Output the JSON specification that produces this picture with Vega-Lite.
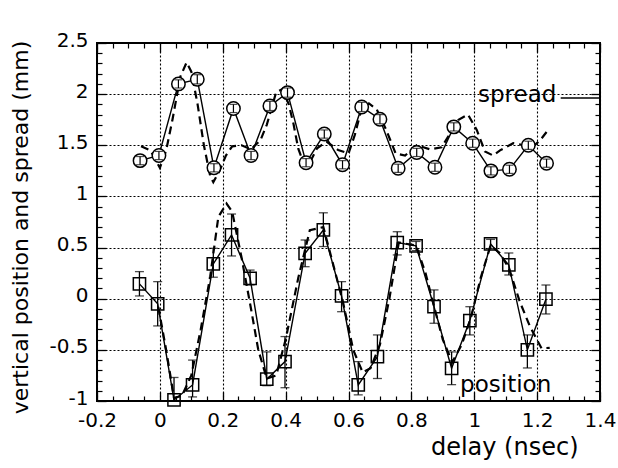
{
  "$schema": "https://vega.github.io/schema/vega-lite/v6.json",
  "autosize": {"type": "none"},
  "width": 503,
  "height": 358,
  "padding": {"left": 97, "top": 43, "right": 18, "bottom": 67},
  "background": "white",
  "config": {
    "view": {"stroke": "black", "strokeWidth": 2},
    "font": "DejaVu Sans"
  },
  "datasets": {
    "spread": [
      {"x": -0.063, "y": 1.35, "lo": 1.31, "hi": 1.39},
      {"x": -0.003, "y": 1.40, "lo": 1.36, "hi": 1.44},
      {"x": 0.059, "y": 2.10, "lo": 2.06, "hi": 2.14},
      {"x": 0.119, "y": 2.145, "lo": 2.10, "hi": 2.19},
      {"x": 0.172, "y": 1.28, "lo": 1.24, "hi": 1.32},
      {"x": 0.234, "y": 1.86, "lo": 1.82, "hi": 1.90},
      {"x": 0.290, "y": 1.40, "lo": 1.36, "hi": 1.44},
      {"x": 0.350, "y": 1.885, "lo": 1.84, "hi": 1.93},
      {"x": 0.406, "y": 2.015, "lo": 1.97, "hi": 2.06},
      {"x": 0.465, "y": 1.33, "lo": 1.29, "hi": 1.37},
      {"x": 0.523, "y": 1.61, "lo": 1.57, "hi": 1.65},
      {"x": 0.581, "y": 1.31, "lo": 1.27, "hi": 1.35},
      {"x": 0.642, "y": 1.875, "lo": 1.83, "hi": 1.92},
      {"x": 0.700, "y": 1.755, "lo": 1.71, "hi": 1.80},
      {"x": 0.758, "y": 1.275, "lo": 1.235, "hi": 1.315},
      {"x": 0.817, "y": 1.43, "lo": 1.39, "hi": 1.47},
      {"x": 0.875, "y": 1.285, "lo": 1.245, "hi": 1.325},
      {"x": 0.935, "y": 1.68, "lo": 1.64, "hi": 1.72},
      {"x": 0.995, "y": 1.52, "lo": 1.48, "hi": 1.56},
      {"x": 1.053, "y": 1.25, "lo": 1.21, "hi": 1.29},
      {"x": 1.112, "y": 1.265, "lo": 1.225, "hi": 1.305},
      {"x": 1.172, "y": 1.50, "lo": 1.46, "hi": 1.54},
      {"x": 1.230, "y": 1.325, "lo": 1.285, "hi": 1.365}
    ],
    "position": [
      {"x": -0.065, "y": 0.145, "lo": 0.027, "hi": 0.265},
      {"x": -0.007, "y": -0.05, "lo": -0.266, "hi": 0.167},
      {"x": 0.045, "y": -0.99, "lo": -1.0, "hi": -0.77},
      {"x": 0.104, "y": -0.843, "lo": -0.96, "hi": -0.60},
      {"x": 0.170, "y": 0.34, "lo": 0.21, "hi": 0.493},
      {"x": 0.228, "y": 0.623, "lo": 0.418, "hi": 0.828},
      {"x": 0.287, "y": 0.20, "lo": 0.135, "hi": 0.28},
      {"x": 0.340, "y": -0.787, "lo": -0.85, "hi": -0.52},
      {"x": 0.398, "y": -0.615, "lo": -0.87, "hi": -0.37},
      {"x": 0.462, "y": 0.444, "lo": 0.313, "hi": 0.574},
      {"x": 0.520, "y": 0.672, "lo": 0.51, "hi": 0.84},
      {"x": 0.578, "y": 0.027, "lo": -0.127, "hi": 0.167},
      {"x": 0.631, "y": -0.843, "lo": -0.94, "hi": -0.615},
      {"x": 0.692, "y": -0.566, "lo": -0.78, "hi": -0.354},
      {"x": 0.755, "y": 0.548, "lo": 0.428, "hi": 0.655},
      {"x": 0.815, "y": 0.516, "lo": 0.47, "hi": 0.56},
      {"x": 0.872, "y": -0.078, "lo": -0.24, "hi": 0.086},
      {"x": 0.928, "y": -0.68, "lo": -0.84, "hi": -0.52},
      {"x": 0.986, "y": -0.214, "lo": -0.354, "hi": -0.078},
      {"x": 1.052, "y": 0.535, "lo": 0.49, "hi": 0.58},
      {"x": 1.110, "y": 0.33, "lo": 0.232, "hi": 0.447},
      {"x": 1.169, "y": -0.50, "lo": -0.677, "hi": -0.354},
      {"x": 1.228, "y": -0.005, "lo": -0.149, "hi": 0.134}
    ],
    "spreadFit": [
      {"x": -0.06, "y": 1.49}, {"x": -0.03, "y": 1.45}, {"x": 0.0, "y": 1.28},
      {"x": 0.02, "y": 1.45}, {"x": 0.04, "y": 1.75}, {"x": 0.065, "y": 2.17},
      {"x": 0.085, "y": 2.31}, {"x": 0.10, "y": 2.22}, {"x": 0.12, "y": 1.9},
      {"x": 0.14, "y": 1.5}, {"x": 0.16, "y": 1.2}, {"x": 0.17, "y": 1.14},
      {"x": 0.19, "y": 1.25}, {"x": 0.21, "y": 1.40}, {"x": 0.23, "y": 1.49},
      {"x": 0.26, "y": 1.50}, {"x": 0.29, "y": 1.46}, {"x": 0.32, "y": 1.55},
      {"x": 0.34, "y": 1.70}, {"x": 0.37, "y": 2.02}, {"x": 0.39, "y": 2.05},
      {"x": 0.41, "y": 1.9}, {"x": 0.425, "y": 1.71}, {"x": 0.44, "y": 1.47},
      {"x": 0.46, "y": 1.30}, {"x": 0.48, "y": 1.35}, {"x": 0.50, "y": 1.47},
      {"x": 0.53, "y": 1.535}, {"x": 0.567, "y": 1.454}, {"x": 0.60, "y": 1.42},
      {"x": 0.62, "y": 1.60}, {"x": 0.64, "y": 1.84}, {"x": 0.665, "y": 1.91},
      {"x": 0.69, "y": 1.85}, {"x": 0.72, "y": 1.65}, {"x": 0.75, "y": 1.42},
      {"x": 0.78, "y": 1.40}, {"x": 0.817, "y": 1.50}, {"x": 0.86, "y": 1.46},
      {"x": 0.896, "y": 1.48}, {"x": 0.93, "y": 1.65}, {"x": 0.95, "y": 1.75},
      {"x": 0.98, "y": 1.80}, {"x": 1.008, "y": 1.65}, {"x": 1.034, "y": 1.44},
      {"x": 1.06, "y": 1.40}, {"x": 1.082, "y": 1.45}, {"x": 1.124, "y": 1.52},
      {"x": 1.16, "y": 1.50}, {"x": 1.188, "y": 1.49}, {"x": 1.21, "y": 1.55},
      {"x": 1.23, "y": 1.63}
    ],
    "positionFit": [
      {"x": -0.005, "y": -0.08}, {"x": 0.02, "y": -0.5}, {"x": 0.045, "y": -0.97},
      {"x": 0.07, "y": -0.95}, {"x": 0.10, "y": -0.75}, {"x": 0.13, "y": -0.3},
      {"x": 0.16, "y": 0.215}, {"x": 0.186, "y": 0.80}, {"x": 0.212, "y": 0.93},
      {"x": 0.23, "y": 0.85}, {"x": 0.26, "y": 0.4}, {"x": 0.29, "y": -0.1},
      {"x": 0.313, "y": -0.5}, {"x": 0.34, "y": -0.78}, {"x": 0.37, "y": -0.75},
      {"x": 0.40, "y": -0.4}, {"x": 0.44, "y": 0.2}, {"x": 0.477, "y": 0.67},
      {"x": 0.52, "y": 0.70}, {"x": 0.55, "y": 0.35}, {"x": 0.583, "y": -0.04},
      {"x": 0.615, "y": -0.5}, {"x": 0.645, "y": -0.72}, {"x": 0.67, "y": -0.68},
      {"x": 0.70, "y": -0.45}, {"x": 0.73, "y": 0.0}, {"x": 0.76, "y": 0.55},
      {"x": 0.815, "y": 0.52}, {"x": 0.845, "y": 0.25}, {"x": 0.87, "y": -0.05},
      {"x": 0.90, "y": -0.4}, {"x": 0.93, "y": -0.62}, {"x": 0.96, "y": -0.45},
      {"x": 0.99, "y": -0.18}, {"x": 1.02, "y": 0.2}, {"x": 1.052, "y": 0.52},
      {"x": 1.08, "y": 0.45}, {"x": 1.11, "y": 0.3}, {"x": 1.145, "y": -0.03},
      {"x": 1.177, "y": -0.27}, {"x": 1.214, "y": -0.485}, {"x": 1.24, "y": -0.48}
    ],
    "labels": [
      {"x": 1.012, "y": 1.92, "label": "spread"},
      {"x": 0.955, "y": -0.909, "label": "position"}
    ],
    "leader": [
      {"x": 1.275, "x2": 1.4, "y": 1.962}
    ]
  },
  "encoding": {
    "x": {"field": "x", "type": "quantitative", "scale": {"domain": [-0.2, 1.4], "nice": false, "zero": false}, "axis": null},
    "y": {"field": "y", "type": "quantitative", "scale": {"domain": [-1, 2.5], "nice": false, "zero": false}, "axis": null}
  },
  "layer": [
    {
      "data": {"name": "spreadFit"},
      "mark": {"type": "line", "color": "black", "strokeWidth": 2.2, "strokeDash": [8, 5]},
      "encoding": {
        "x": {
          "field": "x", "type": "quantitative",
          "scale": {"domain": [-0.2, 1.4], "nice": false, "zero": false},
          "axis": {
            "orient": "bottom",
            "values": [-0.2, 0, 0.2, 0.4, 0.6, 0.8, 1, 1.2, 1.4],
            "format": ".1~f",
            "labelExpr": "replace(datum.label, '\u2212', '-')",
            "labelOverlap": false,
            "labelFlush": false,
            "labelFont": "DejaVu Sans",
            "labelFontSize": 20,
            "labelColor": "black",
            "labelPadding": 18,
            "tickColor": "black",
            "tickWidth": 1.3,
            "tickSize": -9,
            "grid": true,
            "gridColor": "black",
            "gridDash": [2, 2],
            "gridWidth": 1.1,
            "domain": false,
            "title": "delay  (nsec)",
            "titleFont": "DejaVu Sans",
            "titleFontSize": 24,
            "titleFontWeight": "normal",
            "titleColor": "black",
            "titleAlign": "right",
            "titleAnchor": "end",
            "titleX": 481,
            "titleY": 53,
            "titleBaseline": "alphabetic"
          }
        },
        "y": {
          "field": "y", "type": "quantitative",
          "scale": {"domain": [-1, 2.5], "nice": false, "zero": false},
          "axis": {
            "orient": "left",
            "values": [-1, -0.5, 0, 0.5, 1, 1.5, 2, 2.5],
            "format": ".1~f",
            "labelExpr": "replace(datum.label, '\u2212', '-')",
            "labelOverlap": false,
            "labelFlush": false,
            "labelFont": "DejaVu Sans",
            "labelFontSize": 20,
            "labelColor": "black",
            "labelPadding": 18,
            "labelOffset": -3,
            "tickColor": "black",
            "tickWidth": 1.3,
            "tickSize": -9,
            "grid": true,
            "gridColor": "black",
            "gridDash": [2, 2],
            "gridWidth": 1.2,
            "domain": false,
            "title": "vertical  position  and  spread  (mm)",
            "titleFont": "DejaVu Sans",
            "titleFontSize": 22,
            "titleFontWeight": "normal",
            "titleColor": "black",
            "titleAngle": -90,
            "titleAlign": "center",
            "titleBaseline": "middle",
            "titleX": -77,
            "titleY": 184
          }
        }
      }
    },
    {
      "data": {"name": "positionFit"},
      "mark": {"type": "line", "color": "black", "strokeWidth": 2.2, "strokeDash": [8, 5]},
      "encoding": {
        "x": {
          "field": "x", "type": "quantitative",
          "scale": {"domain": [-0.2, 1.4], "nice": false, "zero": false},
          "axis": {
            "orient": "top",
            "values": [-0.2, 0, 0.2, 0.4, 0.6, 0.8, 1, 1.2, 1.4],
            "labels": false, "tickColor": "black", "tickWidth": 1.3, "tickSize": -9,
            "grid": false, "domain": false, "title": null
          }
        },
        "y": {
          "field": "y", "type": "quantitative",
          "scale": {"domain": [-1, 2.5], "nice": false, "zero": false},
          "axis": {
            "orient": "right",
            "values": [-1, -0.5, 0, 0.5, 1, 1.5, 2, 2.5],
            "labels": false, "tickColor": "black", "tickWidth": 1.3, "tickSize": -9,
            "grid": false, "domain": false, "title": null
          }
        }
      }
    },
    {
      "data": {"name": "spread"},
      "mark": {"type": "line", "color": "black", "strokeWidth": 1.4},
      "encoding": {
        "x": {
          "field": "x", "type": "quantitative",
          "scale": {"domain": [-0.2, 1.4], "nice": false, "zero": false},
          "axis": {
            "orient": "bottom",
            "values": [-0.15, -0.1, -0.05, 0.05, 0.1, 0.15, 0.25, 0.3, 0.35, 0.45, 0.5, 0.55, 0.65, 0.7, 0.75, 0.85, 0.9, 0.95, 1.05, 1.1, 1.15, 1.25, 1.3, 1.35],
            "labels": false, "tickColor": "black", "tickWidth": 1.2, "tickSize": -5,
            "grid": false, "domain": false, "title": null
          }
        },
        "y": {
          "field": "y", "type": "quantitative",
          "scale": {"domain": [-1, 2.5], "nice": false, "zero": false},
          "axis": {
            "orient": "left",
            "values": [-0.9, -0.8, -0.7, -0.6, -0.4, -0.3, -0.2, -0.1, 0.1, 0.2, 0.3, 0.4, 0.6, 0.7, 0.8, 0.9, 1.1, 1.2, 1.3, 1.4, 1.6, 1.7, 1.8, 1.9, 2.1, 2.2, 2.3, 2.4],
            "labels": false, "tickColor": "black", "tickWidth": 1.2, "tickSize": -5,
            "grid": false, "domain": false, "title": null
          }
        }
      }
    },
    {
      "data": {"name": "position"},
      "mark": {"type": "line", "color": "black", "strokeWidth": 1.4},
      "encoding": {
        "x": {
          "field": "x", "type": "quantitative",
          "scale": {"domain": [-0.2, 1.4], "nice": false, "zero": false},
          "axis": {
            "orient": "top",
            "values": [-0.15, -0.1, -0.05, 0.05, 0.1, 0.15, 0.25, 0.3, 0.35, 0.45, 0.5, 0.55, 0.65, 0.7, 0.75, 0.85, 0.9, 0.95, 1.05, 1.1, 1.15, 1.25, 1.3, 1.35],
            "labels": false, "tickColor": "black", "tickWidth": 1.2, "tickSize": -5,
            "grid": false, "domain": false, "title": null
          }
        },
        "y": {
          "field": "y", "type": "quantitative",
          "scale": {"domain": [-1, 2.5], "nice": false, "zero": false},
          "axis": {
            "orient": "right",
            "values": [-0.9, -0.8, -0.7, -0.6, -0.4, -0.3, -0.2, -0.1, 0.1, 0.2, 0.3, 0.4, 0.6, 0.7, 0.8, 0.9, 1.1, 1.2, 1.3, 1.4, 1.6, 1.7, 1.8, 1.9, 2.1, 2.2, 2.3, 2.4],
            "labels": false, "tickColor": "black", "tickWidth": 1.2, "tickSize": -5,
            "grid": false, "domain": false, "title": null
          }
        }
      }
    },
    {
      "data": {"name": "position"},
      "mark": {"type": "errorbar", "color": "black", "thickness": 1.3, "ticks": {"size": 9, "thickness": 1.3}},
      "encoding": {
        "y": {"field": "lo", "type": "quantitative", "scale": {"domain": [-1, 2.5], "nice": false, "zero": false}, "axis": null},
        "y2": {"field": "hi"}
      }
    },
    {
      "data": {"name": "spread"},
      "mark": {"type": "point", "shape": "circle", "size": 180, "filled": false, "fill": "white", "fillOpacity": 1, "stroke": "black", "strokeWidth": 1.5, "opacity": 1}
    },
    {
      "data": {"name": "position"},
      "mark": {"type": "point", "shape": "square", "size": 150, "filled": false, "fill": "white", "fillOpacity": 0, "stroke": "black", "strokeWidth": 1.5, "opacity": 1}
    },
    {
      "data": {"name": "spread"},
      "mark": {"type": "errorbar", "color": "black", "thickness": 1.2, "ticks": {"size": 8, "thickness": 1.2}},
      "encoding": {
        "y": {"field": "lo", "type": "quantitative", "scale": {"domain": [-1, 2.5], "nice": false, "zero": false}, "axis": null},
        "y2": {"field": "hi"}
      }
    },
    {
      "data": {"name": "leader"},
      "mark": {"type": "rule", "color": "black", "strokeWidth": 1.4},
      "encoding": {"x2": {"field": "x2"}}
    },
    {
      "data": {"name": "labels"},
      "mark": {"type": "text", "align": "left", "baseline": "alphabetic", "font": "DejaVu Sans", "fontSize": 23, "color": "black"},
      "encoding": {"text": {"field": "label", "type": "nominal"}}
    }
  ],
  "resolve": {"axis": {"x": "independent", "y": "independent"}}
}
